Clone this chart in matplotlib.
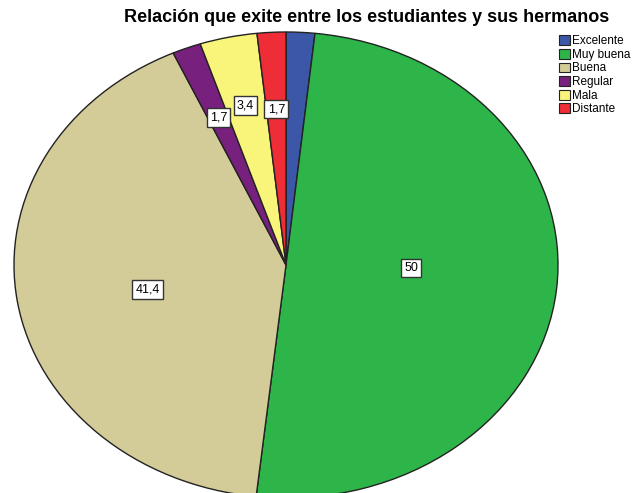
import numpy as np
import matplotlib
matplotlib.use("Agg")
import matplotlib.pyplot as plt
from matplotlib.patches import Patch

categories = ["Excelente", "Muy buena", "Buena", "Regular", "Mala", "Distante"]
values = [1.7, 50, 41.4, 1.7, 3.4, 1.7]
labels_text = ["", "50", "41,4", "1,7", "3,4", "1,7"]
colors = ["#3C56A8", "#2DB54A", "#D3CB98", "#78207E", "#F9F47A", "#EE2D36"]
label_radius = [0.7, 0.46, 0.52, 0.68, 0.7, 0.67]
label_angle_offset = [0, 4.8, 2.6, 0, 0, 0]

plt.rcParams["font.family"] = ["Liberation Sans", "DejaVu Sans"]

W, H = 641, 493
fig = plt.figure(figsize=(W / 100, H / 100), dpi=100)
fig.patch.set_facecolor("white")

cx, cy, rx, ry = 286, 265, 272, 233
pad = 1.02
ax = fig.add_axes([(cx - rx * pad) / W, (H - cy - ry * pad) / H,
                   2 * rx * pad / W, 2 * ry * pad / H])
wedges, _ = ax.pie(values, colors=colors, startangle=90, counterclock=False,
                   wedgeprops=dict(edgecolor="#222222", linewidth=1.0))
ax.set_aspect("auto")
ax.set_xlim(-pad, pad)
ax.set_ylim(-pad, pad)
ax.axis("off")

for w, t, r, off in zip(wedges, labels_text, label_radius, label_angle_offset):
    if not t:
        continue
    ang = np.deg2rad((w.theta1 + w.theta2) / 2 + off)
    ax.text(r * np.cos(ang), r * np.sin(ang), t, ha="center", va="center",
            fontsize=9, color="black",
            bbox=dict(boxstyle="square,pad=0.25", facecolor="white",
                      edgecolor="#333333", linewidth=1.0))

fig.text(367 / W, 1 - 18 / H, "Relación que exite entre los estudiantes y sus hermanos",
         ha="center", va="center", fontsize=13, fontweight="bold")

handles = [Patch(facecolor=c, edgecolor="#222222", linewidth=0.8) for c in colors]
fig.legend(handles, categories, loc="upper left", bbox_to_anchor=(558 / W, 1 - 34 / H),
           frameon=False, fontsize=8.5, handlelength=0.9, handleheight=0.9,
           handletextpad=0.2, labelspacing=0.14, borderpad=0.1, borderaxespad=0)

fig.savefig("out.png", dpi=100, facecolor="white")
